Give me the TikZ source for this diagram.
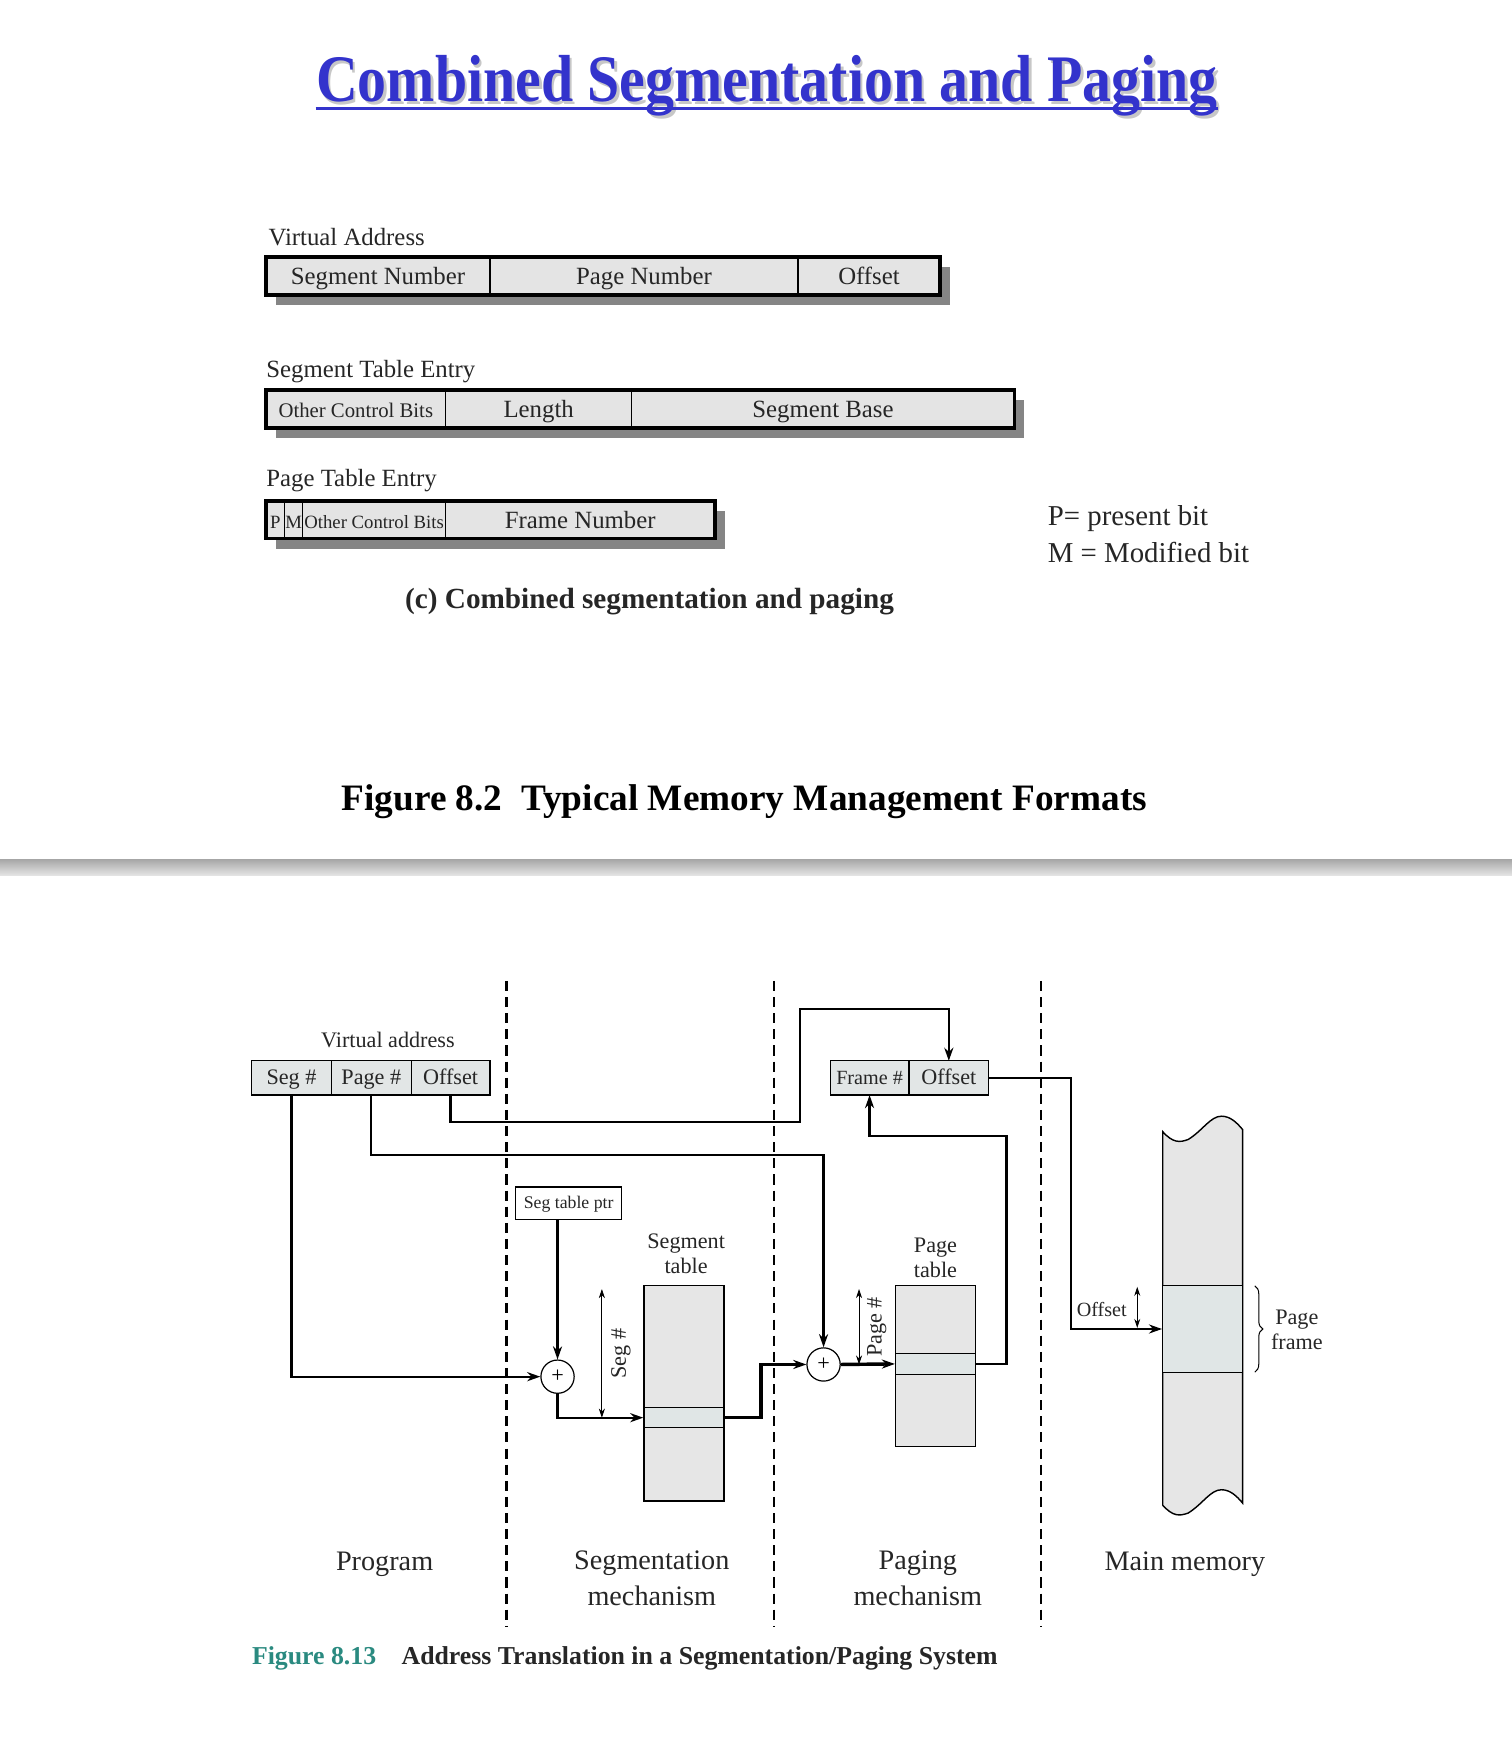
\documentclass[tikz,border=0pt]{standalone}
\usepackage{fontspec}
\setmainfont{Liberation Serif}
\usetikzlibrary{arrows.meta,positioning,calc,decorations.pathreplacing}
\definecolor{titleblue}{HTML}{3333CC}
\definecolor{fieldgray}{HTML}{E4E4E4}
\definecolor{shadowgray}{HTML}{858585}
\definecolor{cellgray}{HTML}{E2E6E6}
\definecolor{tablegray}{HTML}{E6E6E6}
\definecolor{rowgray}{HTML}{E0E6E6}
\definecolor{figteal}{HTML}{2A8A80}
\definecolor{inkgray}{HTML}{262626}
\tikzset{>={Stealth[length=6.5pt,width=4.5pt]}}
\tikzset{
    field/.style={rectangle,draw,line width=0.6pt,fill=fieldgray,outer sep=0pt,inner sep=0pt,
        minimum height=18.7pt,text height=9.7pt,text depth=1.6pt,text=inkgray,
        font=\fontsize{12.3}{14}\selectfont},
    smallfield/.style={field,font=\fontsize{10.3}{12}\selectfont},
    tinyfield/.style={field,font=\fontsize{9.3}{11}\selectfont},
    boxframe/.style={draw,line width=1.7pt},
    boxshadow/.style={fill=shadowgray},
    fmtlabel/.style={anchor=west,inner sep=0pt,text=inkgray,font=\fontsize{12.3}{14}\selectfont},
    legendtxt/.style={anchor=west,inner sep=0pt,text=inkgray,font=\fontsize{14.3}{17}\selectfont},
    cell/.style={rectangle,draw,line width=0.6pt,fill=cellgray,outer sep=0pt,inner sep=0pt,
        minimum height=17pt,text height=8.4pt,text depth=1.7pt,text=inkgray,
        font=\fontsize{11}{13}\selectfont},
    tablebox/.style={rectangle,draw,line width=0.7pt,fill=tablegray,minimum width=39.6pt,inner sep=0pt},
    tablerow/.style={rectangle,draw,line width=0.7pt,fill=rowgray,minimum width=39.6pt,inner sep=0pt},
    adder/.style={circle,draw,line width=0.6pt,fill=white,minimum size=16.5pt,inner sep=0pt,
        font=\fontsize{11}{13}\selectfont},
    tag/.style={align=center,inner sep=0pt,text=inkgray,font=\fontsize{11}{12.5}\selectfont},
    section/.style={align=center,inner sep=0pt,text=inkgray,font=\fontsize{14}{17.6}\selectfont},
    divider/.style={line width=1.1pt,dash pattern=on 5pt off 3pt},
    conn/.style={line width=1.1pt,->},
    heavy/.style={line width=1.7pt,->},
    dimen/.style={line width=0.4pt,<->,>={Stealth[length=4.5pt,width=3pt]}},
}
\begin{document}
\begin{tikzpicture}[x=0.55pt,y=-0.55pt]
    \useasboundingbox (0,0) rectangle (1364,1568);

    % title
    \node[anchor=base,inner sep=0pt,text=black!22,font=\bfseries\fontsize{33}{38}\selectfont]
        (titleshadow) at (694.5,94.5) {\scalebox{0.87}[1]{Combined Segmentation and Paging}};
    \node[anchor=base,inner sep=0pt,text=titleblue,font=\bfseries\fontsize{33}{38}\selectfont]
        (title) at (692,92) {\scalebox{0.87}[1]{Combined Segmentation and Paging}};
    \draw[titleblue,line width=1.5pt] ([yshift=-3.2pt]title.base west) -- ([yshift=-3.2pt]title.base east);

    % virtual address format
    \node[fmtlabel] (valbl) at (242,214) {Virtual Address};
    \fill[boxshadow] (249,241) rectangle (857,275);
    \node[field,minimum width=111.1pt] (segnum) at (341,249) {Segment Number};
    \node[field,minimum width=152.9pt,right=0pt of segnum] (pagenum) {Page Number};
    \node[field,minimum width=70.4pt,right=0pt of pagenum] (offnum) {Offset};
    \draw[boxframe] (segnum.south west) rectangle (offnum.north east);

    % segment table entry
    \node[fmtlabel] (stelbl) at (240,335) {Segment Table Entry};
    \fill[boxshadow] (249,361) rectangle (924,395);
    \node[smallfield,minimum width=89.1pt] (ctlbits) at (321,369) {Other Control Bits};
    \node[field,minimum width=92.4pt,right=0pt of ctlbits] (length) {Length};
    \node[field,minimum width=189.75pt,right=0pt of length] (segbase) {Segment Base};
    \draw[boxframe] (ctlbits.south west) rectangle (segbase.north east);

    % page table entry
    \node[fmtlabel] (ptelbl) at (240,434) {Page Table Entry};
    \fill[boxshadow] (249,461) rectangle (654,495);
    \node[tinyfield,minimum width=9.35pt] (pbit) at (248.5,469) {P};
    \node[tinyfield,minimum width=8.8pt,right=0pt of pbit] (mbit) {M};
    \node[tinyfield,minimum width=70.95pt,right=0pt of mbit] (ctlbitspte) {Other Control Bits};
    \node[field,minimum width=133.65pt,right=0pt of ctlbitspte] (framenum) {Frame Number};
    \draw[boxframe] (pbit.south west) rectangle (framenum.north east);

    \node[legendtxt] (pleg) at (945,468) {P= present bit};
    \node[legendtxt] (mleg) at (945,498) {M = Modified bit};

    \node[inner sep=0pt,text=inkgray,font=\bfseries\fontsize{14.5}{17}\selectfont]
        (subcap) at (586,543) {(c) Combined segmentation and paging};
    \node[inner sep=0pt,font=\bfseries\fontsize{18.5}{22}\selectfont]
        (figtop) at (671.5,723) {Figure 8.2\hspace{0.5em}Typical Memory Management Formats};

    % separator band
    \shade[top color=black!35,bottom color=black!10] (0,775) rectangle (1364,790);

    % address translation
    \foreach \x in {457,698,939}
        \draw[divider] (\x,885) -- (\x,1467);

    \node[tag] (valabel) at (350,938) {Virtual address};
    \node[cell,minimum width=39.6pt] (segno) at (263,972.5) {Seg \#};
    \node[cell,minimum width=39.6pt,right=0pt of segno] (pageno) {Page \#};
    \node[cell,minimum width=39.05pt,right=0pt of pageno] (vaoff) {Offset};
    \node[cell,minimum width=39.05pt,font=\fontsize{10}{12}\selectfont] (frno) at (784.5,972.5) {Frame \#};
    \node[cell,minimum width=39.6pt,right=0pt of frno] (froff) {Offset};

    \node[cell,fill=white,minimum width=52.8pt,minimum height=16pt,text height=6.6pt,text depth=1.5pt,
        font=\fontsize{8.8}{10}\selectfont] (segptr) at (513,1085.5) {Seg table ptr};
    \node[adder] (add1) at (503,1242) {+};
    \node[adder] (add2) at (743,1231) {+};

    \node[tag] (segtablbl) at (619,1131) {Segment\\table};
    \node[tablebox,minimum height=106.7pt] (segtab) at (617,1257) {};
    \node[tablerow,minimum height=9.9pt] (segrow) at (617,1279) {};

    \node[tag] (pagetablbl) at (844,1135) {Page\\table};
    \node[tablebox,minimum height=79.75pt] (pagetab) at (844,1232.5) {};
    \node[tablerow,minimum height=10.45pt] (pagerow) at (844,1230.5) {};

    % main memory column
    \filldraw[fill=tablegray,line width=0.7pt] (1049,1021)
        .. controls (1058,1031) and (1064,1031) .. (1072,1028)
        .. controls (1085,1020) and (1092,1007) .. (1102,1007)
        .. controls (1110,1007) and (1116,1013) .. (1121,1019)
        -- (1121,1356)
        .. controls (1116,1350) and (1110,1344) .. (1102,1344)
        .. controls (1092,1344) and (1085,1357) .. (1072,1365)
        .. controls (1064,1368) and (1058,1368) .. (1049,1358) -- cycle;
    \node[tablerow,minimum height=42.9pt] (memrow) at (1085,1199) {};
    \draw[decorate,decoration={brace,amplitude=4pt},line width=0.5pt] (1132,1160) -- (1132,1238);
    \node[tag] (framelbl) at (1170,1200) {Page\\frame};

    % connectors
    \coordinate (offtop) at (722,910);
    \draw[conn] (segno.south) |- (add1.west);
    \draw[conn] (pageno.south) -- ++(0,54) -| (add2.north);
    \draw[conn] (vaoff.south) |- (722,1012) |- (froff.north |- offtop) -- (froff.north);
    \draw[heavy] (segptr.south -| add1) -- (add1.north);
    \draw[conn] (add1.south) |- (segrow.west);
    \draw[heavy] (segrow.east) -- ++(33,0) |- (add2.west);
    \draw[heavy] (add2.east) -- (pagerow.west);
    \draw[conn] (pagerow.east) -| (908,1025) -| (frno.south);
    \draw[conn] (froff.east) -| (966,1100) |- (memrow.west);

    % dimension marks
    \draw[dimen] (543,1163) -- (543,1279)
        node[midway,xshift=9.4pt,rotate=90,tag] (segdim) {Seg \#};
    \draw[dimen] (775,1163) -- (775,1231)
        node[midway,xshift=8.8pt,rotate=90,tag] (pagedim) {Page \#};
    \draw[dimen] (1026,1161) -- (1026,1198);
    \node[tag,font=\fontsize{10}{12}\selectfont] (offdim) at (994,1181) {Offset};

    % section names
    \node[section] (proglbl) at (347,1411) {Program};
    \node[section] (seglbl) at (588,1424) {Segmentation\\mechanism};
    \node[section] (paglbl) at (828,1424) {Paging\\mechanism};
    \node[section] (memlbl) at (1069,1411) {Main memory};

    \node[anchor=west,inner sep=0pt,text=figteal,font=\bfseries\fontsize{12.8}{15}\selectfont]
        (figbottom) at (227,1496) {Figure 8.13};
    \node[anchor=west,inner sep=0pt,text=inkgray,font=\bfseries\fontsize{12.8}{15}\selectfont]
        (figbottomtxt) at (362,1496) {Address Translation in a Segmentation/Paging System};
\end{tikzpicture}
\end{document}
